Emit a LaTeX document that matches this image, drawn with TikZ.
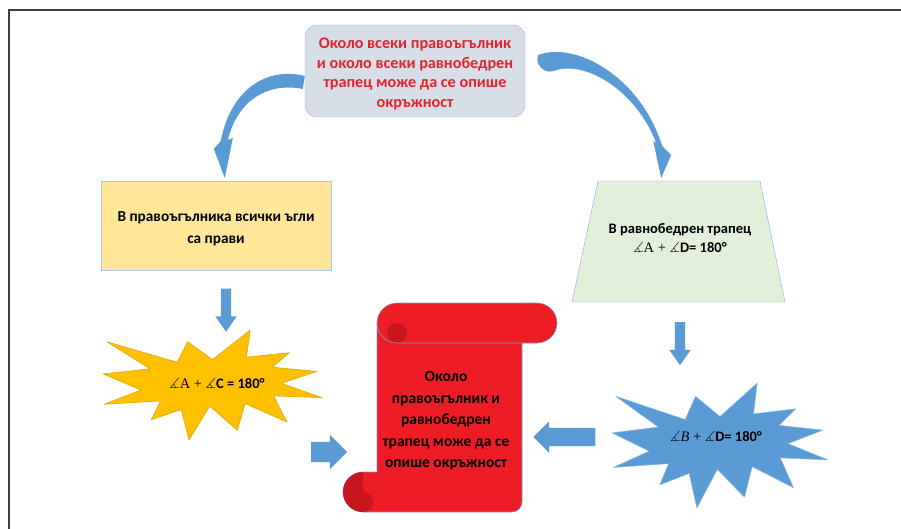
\documentclass[tikz,border=0pt]{standalone}
\usepackage{amssymb}
\usepackage{fontspec}
\setmainfont{Carlito}
\newfontfamily\timesA{Liberation Serif}
\usetikzlibrary{shapes.geometric,shapes.arrows,positioning}

\definecolor{capblue}{HTML}{D8DEE8}
\definecolor{capline}{HTML}{9FB2CC}
\definecolor{capred}{HTML}{E3232B}
\definecolor{rectyellow}{HTML}{FFE699}
\definecolor{rectline}{HTML}{A9C8EA}
\definecolor{trapgreen}{HTML}{E2EFD9}
\definecolor{trapline}{HTML}{8FAADC}
\definecolor{arrblue}{HTML}{5B9BD5}
\definecolor{staryellow}{HTML}{FFC000}
\definecolor{scrollred}{HTML}{EE1C25}
\definecolor{scrolldark}{HTML}{C8161E}
\definecolor{scrollline}{HTML}{7C9BCB}

\newcommand{\ang}{$\measuredangle$}

\tikzset{
  caption/.style={draw=capline, fill=capblue, rounded corners=12pt, minimum width=220pt, minimum height=92pt},
  captext/.style={align=center, text=capred, font=\fontsize{16.2}{19.5}\selectfont\bfseries},
  rectbox/.style={draw=rectline, fill=rectyellow, minimum width=230pt, minimum height=89pt},
  recttext/.style={align=center, font=\fontsize{15.3}{22}\selectfont\bfseries},
  traptext/.style={align=center, font=\fontsize{14.5}{19}\selectfont\bfseries},
  blockarrow/.style={single arrow, fill=arrblue, inner xsep=0pt, single arrow head indent=0pt},
  eqtext/.style={font=\fontsize{14.5}{17}\selectfont\bfseries},
  scrolltext/.style={align=center, font=\fontsize{15.5}{21.5}\selectfont\bfseries},
  yellowstar/.style={fill=staryellow, draw=staryellow!85!black, line width=0.5pt, line join=round, x=1.0139pt, y=-0.5093pt},
  bluestar/.style={fill=arrblue, draw=arrblue!70!white, line width=0.5pt, line join=round, x=1pt, y=-0.5787pt},
  explosion/.pic={
    \draw[pic actions] (108,58) -- (145.22,0) -- (141.55,53.25) -- (183.8,44.57) -- (167.02,73.15) -- (210.97,81.37)
      -- (176.07,104.75) -- (216,132.9) -- (168.37,129.42) -- (181.45,180.95) -- (140.2,144.57) -- (132.47,197.37)
      -- (105.32,149.35) -- (84.85,216) -- (77.15,156.27) -- (47.62,176.17) -- (56.67,139.37) -- (1.35,145.87)
      -- (37.22,117.75) -- (0,86.15) -- (46.27,76.17) -- (3.7,22.95) -- (73.12,63.2) -- (83.52,22.95) -- cycle;
  }
}

\begin{document}
\begin{tikzpicture}[x=1pt,y=-1pt]
\useasboundingbox (0,0) rectangle (901,529);
\draw[line width=1.3pt, black!75] (9,529) -- (9,10) -- (901,10);

% boxes
\node[caption] (topbox) at (415,71) {};
\node[captext] (captxt) at (415,74) {Около всеки правоъгълник\\и около всеки равнобедрен\\трапец може да се опише\\окръжност};
\node[rectbox] (rectbox) at (216,225.5) {};
\node[recttext] (recttxt) at (216,229) {В правоъгълника всички ъгли\\са прави};
\draw[trapline, fill=trapgreen] (598,181) -- (760,181) -- (785,302) -- (572,302) -- cycle;
\node[traptext] (trapbox) at (680,238) {В равнобедрен трапец\\{\timesA\mdseries\ang A + \ang}D= 180°};

% curved arrows
\fill[arrblue, shift={(topbox.west)}] (0,5) .. controls (-40,-5) and (-75,21) .. (-84,70) -- (-91,78) -- (-80,107)
  -- (-72,67) -- (-77,69) .. controls (-67,29) and (-37,11) .. (-2,18) -- cycle;
\fill[arrblue, shift={(topbox.east)}] (13,-16) .. controls (50,-30) and (115,5) .. (137,75) -- (146,84) -- (136,107)
  -- (128,70) -- (131,72) .. controls (112,22) and (62,-12) .. (28,0) .. controls (19,3) and (9,-7) .. (13,-16) -- cycle;

% block arrows
\node[blockarrow, rotate=-90, minimum height=43pt, minimum width=21pt, inner ysep=5pt,
  single arrow head extend=5.5pt, single arrow tip angle=70] (downL) at (226,306.5) {};
\node[blockarrow, rotate=-90, minimum height=43pt, minimum width=21pt, inner ysep=5pt,
  single arrow head extend=5.5pt, single arrow tip angle=70] (downR) at (680,340) {};
\node[blockarrow, minimum height=36pt, minimum width=34pt, inner ysep=10pt,
  single arrow head extend=7pt] (toscrollL) at (324,452) {};
\node[blockarrow, rotate=180, minimum height=62pt, minimum width=31pt, inner ysep=9pt,
  single arrow head extend=6.5pt] (toscrollR) at (569,437) {};

% stars
\pic[yellowstar] at (103pt,-330pt) {explosion};
\pic[bluestar] at (612pt,-383pt) {explosion};
\node[eqtext] (eqA) at (217,384) {{\timesA\mdseries\ang A + \ang}C = 180°};
\node[eqtext] (eqB) at (716,437) {{\timesA\mdseries\ang\textit{B} + \ang}D= 180°};

% scroll
\draw[scrollline, line width=0.6pt, fill=scrollred]
  (397,303) -- (537,303) arc[start angle=-90, end angle=90, radius=20]
  -- (522,343) -- (522,502) arc[start angle=0, end angle=90, radius=10]
  -- (363,512) arc[start angle=90, end angle=270, radius=20]
  -- (377,472) -- (377,323) arc[start angle=180, end angle=270, radius=20] -- cycle;
\fill[scrolldark] (397,333) circle[radius=10];
\draw[scrollline, line width=0.6pt] (377,323) arc[start angle=180, end angle=90, radius=20] -- (522,343);
\fill[scrolldark] (363,472) arc[start angle=270, end angle=90, radius=20] arc[start angle=90, end angle=-90, radius=10] -- cycle;
\node[scrolltext] (scrolltxt) at (446,421) {Около\\правоъгълник и\\равнобедрен\\трапец може да се\\опише окръжност};
\end{tikzpicture}
\end{document}
